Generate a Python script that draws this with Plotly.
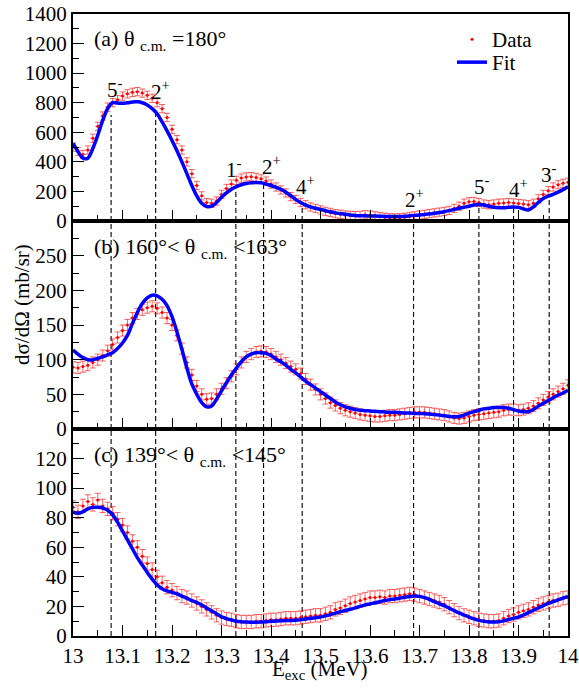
import plotly.graph_objects as go

# ---------------- data ----------------
energy = [round(13.0 + 0.01 * i, 2) for i in range(101)]

data_a = [500, 470, 450, 480, 560, 640, 710, 770, 800, 820,
          845, 860, 870, 875, 865, 850, 830, 800, 760, 700,
          620, 550, 480, 400, 320, 240, 170, 125, 120, 135,
          180, 220, 250, 275, 290, 298, 300, 295, 285, 270,
          250, 230, 210, 190, 165, 145, 125, 110, 95, 85,
          75, 65, 58, 50, 45, 40, 38, 36, 38, 42,
          40, 35, 30, 25, 22, 20, 22, 25, 30, 35,
          40, 45, 50, 55, 60, 65, 72, 85, 100, 120,
          130, 132, 125, 115, 110, 115, 120, 122, 125, 122,
          118, 115, 110, 120, 150, 180, 205, 230, 245, 255, 262]
fit_a = [525, 470, 425, 425, 490, 580, 680, 760, 800, 798,
         796, 800, 805, 806, 800, 785, 760, 725, 670, 610,
         545, 475, 400, 320, 240, 170, 120, 98, 100, 125,
         160, 190, 215, 232, 245, 253, 258, 261, 258, 250,
         240, 228, 215, 195, 172, 145, 125, 108, 95, 86,
         78, 70, 62, 55, 50, 45, 41, 38, 36, 35,
         34, 33, 32, 31, 30, 30, 30, 32, 35, 38,
         41, 44, 48, 52, 57, 63, 70, 78, 86, 93,
         100, 108, 112, 108, 100, 93, 90, 90, 93, 95,
         92, 82, 75, 95, 125, 152, 168, 180, 195, 212, 232]

data_b = [89, 88, 90, 92, 96, 100, 106, 113, 122, 132,
          142, 150, 160, 166, 172, 175, 177, 174, 168, 160,
          150, 135, 116, 96, 78, 62, 50, 43, 44, 50,
          58, 66, 76, 86, 96, 104, 108, 111, 112, 111,
          108, 104, 100, 95, 90, 86, 80, 72, 64, 57,
          50, 44, 38, 34, 30, 27, 25, 23, 21, 20,
          19, 18, 18, 19, 20, 20, 21, 22, 23, 24,
          24, 24, 23, 22, 21, 20, 18, 16, 15, 16,
          18, 20, 21, 22, 23, 24, 25, 27, 28, 28,
          27, 28, 30, 33, 37, 42, 46, 50, 54, 58, 63]
fit_b = [114, 108, 103, 100, 100, 102, 104, 107, 110, 116,
         124, 135, 152, 168, 181, 189, 193, 192, 187, 178,
         162, 140, 115, 88, 65, 50, 38, 32, 33, 43,
         55, 67, 78, 88, 97, 104, 108, 110, 110, 109,
         106, 101, 97, 92, 86, 81, 75, 69, 64, 59,
         54, 49, 44, 39, 35, 32, 30, 28, 27, 26.5,
         26, 25.5, 25, 24.5, 24, 24, 23.5, 23, 23, 22.5,
         22.5, 22, 21.5, 21, 20, 19, 18, 17.5, 18, 20,
         23, 25, 27, 29, 30, 31, 31, 31, 30, 28,
         26, 25, 25, 28, 33, 37, 41, 45, 49, 52, 56]

data_c = [87, 84, 88, 91, 89, 92, 88, 86, 83, 79,
          75, 70, 64, 60, 54, 49, 45, 40, 36, 33,
          31, 29, 27, 26, 24, 22, 20, 18, 16, 14,
          12.5, 11.5, 11, 10, 9.5, 9.5, 9.5, 10, 10, 10.5,
          11, 11, 11.5, 12, 12, 12, 12.5, 13, 13.5, 14,
          14, 15, 16, 18, 19, 20.5, 22, 23, 24, 25,
          26, 26, 26.5, 26, 27, 27, 27.5, 28, 28.5, 28,
          27, 26, 25, 24, 23, 21.5, 19.5, 17.5, 15.5, 14,
          13, 12, 11, 10.5, 10, 10, 10.5, 12, 13.5, 14.5,
          16, 17, 18, 19.5, 21, 22, 23, 24, 24.5, 25.5, 26]
fit_c = [84, 83, 84, 86, 87, 87, 86.5, 85, 82, 77,
         71, 65, 59, 53, 48, 43, 38.5, 34.5, 32, 30.5,
         29.5, 28.5, 27, 25.5, 24, 22.8, 21, 19, 17, 15,
         13, 11.8, 10.8, 10, 9.6, 9.4, 9.3, 9.3, 9.4, 9.6,
         9.9, 10.1, 10.3, 10.4, 10.5, 10.6, 11, 11.5, 12, 12.4,
         12.8, 13.6, 14.5, 15.5, 16.4, 17.2, 18.1, 19, 20, 21,
         21.7, 22.5, 23.2, 24, 24.6, 25, 25.6, 26.2, 26.7, 27,
         26.8, 26, 24.8, 23.2, 21.8, 20.5, 18.8, 17.2, 15.6, 14.2,
         12.8, 11.6, 10.6, 9.9, 9.5, 9.4, 9.6, 10.2, 11.2, 12,
         12.8, 14.2, 15.8, 17.4, 19, 20.6, 22, 23.2, 24.4, 25.6, 26.8]

err_a, err_b, err_c = 28, 8, 4.5
err_e = 0.005

# tick labels
x_ticks = [13, 13.1, 13.2, 13.3, 13.4, 13.5, 13.6, 13.7, 13.8, 13.9, 14]
x_ticktext = ["13", "13.1", "13.2", "13.3", "13.4", "13.5", "13.6", "13.7", "13.8", "13.9", "14"]
y_ticks_a = [0, 200, 400, 600, 800, 1000, 1200, 1400]
y_ticks_b = [0, 50, 100, 150, 200, 250]
y_ticks_c = [0, 20, 40, 60, 80, 100, 120]

# level energies, spin labels and label positions (panel a)
levels = [13.077, 13.167, 13.329, 13.385, 13.463, 13.688, 13.820, 13.890, 13.962]
level_top_a = [717, 739, 222, 245, 122, 35, 110, 100, 165]
spins = ["5<sup>-</sup>", "2<sup>+</sup>", "1<sup>-</sup>", "2<sup>+</sup>", "4<sup>+</sup>",
         "2<sup>+</sup>", "5<sup>-</sup>", "4<sup>+</sup>", "3<sup>-</sup>"]
spin_x = [13.085, 13.176, 13.326, 13.400, 13.470, 13.690, 13.826, 13.900, 13.962]
spin_y = [899, 885, 358, 378, 237, 155, 237, 223, 324]

panel_titles = ["(a) θ <sub>c.m.</sub> =180°",
                "(b) 160°< θ <sub>c.m.</sub> <163°",
                "(c) 139°< θ <sub>c.m.</sub> <145°"]

FONT = "Liberation Serif, Times New Roman, DejaVu Serif, serif"
RED = "#ff0000"
BLUE = "#0000ff"

fig = go.Figure()

panels = [
    (data_a, fit_a, err_a, "x", "y"),
    (data_b, fit_b, err_b, "x2", "y2"),
    (data_c, fit_c, err_c, "x3", "y3"),
]
for i, (d, f, e, xa, ya) in enumerate(panels):
    fig.add_trace(go.Scatter(
        x=energy, y=d, mode="markers", xaxis=xa, yaxis=ya,
        marker=dict(color=RED, size=3),
        error_y=dict(type="constant", value=e, color="rgba(255,0,0,0.6)", thickness=1, width=3),
        error_x=dict(type="constant", value=err_e, color="rgba(255,0,0,0.6)", thickness=1, width=0),
        name="Data", showlegend=(i == 0), legend="legend"))
    fig.add_trace(go.Scatter(
        x=energy, y=f, mode="lines", xaxis=xa, yaxis=ya,
        line=dict(color=BLUE, width=3.5, shape="spline"),
        name="Fit", showlegend=(i == 0), legend="legend2"))

# dashed level lines
DASH = dict(color="black", width=1.1, dash="5px,3px")
shapes = []
for e0, top in zip(levels, level_top_a):
    shapes.append(dict(type="line", xref="x", yref="y", x0=e0, x1=e0, y0=0, y1=top,
                       line=DASH, layer="below"))
    for yr in ["y2 domain", "y3 domain"]:
        shapes.append(dict(type="line", xref="x", yref=yr, x0=e0, x1=e0, y0=0, y1=1,
                           line=DASH, layer="below"))

annotations = []
for t, sx, sy in zip(spins, spin_x, spin_y):
    annotations.append(dict(text=t, x=sx, y=sy, xref="x", yref="y", showarrow=False,
                            xanchor="center", yanchor="middle",
                            font=dict(family=FONT, size=21, color="black")))

H = 622.0
W = 495.0
def py(p):
    return (636 - p) / H
def px(p):
    return (p - 73) / W

for t, ypix in zip(panel_titles, [40, 248, 456]):
    annotations.append(dict(text=t, x=px(92), y=py(ypix), xref="paper", yref="paper",
                            xanchor="left", yanchor="middle", showarrow=False,
                            font=dict(family=FONT, size=22, color="black")))

annotations.append(dict(text="dσ/dΩ (mb/sr)", x=px(22), y=py(305), xref="paper",
                        yref="paper", textangle=-90, showarrow=False,
                        xanchor="center", yanchor="middle",
                        font=dict(family=FONT, size=21, color="black")))
annotations.append(dict(text="E<sub>exc</sub> (MeV)", x=px(320), y=py(670), xref="paper",
                        yref="paper", showarrow=False, xanchor="center", yanchor="middle",
                        font=dict(family=FONT, size=21, color="black")))

axis_common = dict(showline=True, linecolor="black", linewidth=2, mirror=True,
                   ticks="inside", ticklen=11, tickwidth=1, tickcolor="black",
                   showgrid=False, zeroline=False, automargin=False,
                   tickfont=dict(family=FONT, size=21, color="black"))

xcommon = dict(axis_common, range=[13, 14], tickmode="array", tickvals=x_ticks,
               minor=dict(ticks="inside", ticklen=6, dtick=0.05, tick0=13,
                          tickcolor="black", tickwidth=1))

def yminor(step):
    return dict(ticks="inside", ticklen=6, dtick=step, tick0=0, tickcolor="black", tickwidth=1)

fig.update_layout(
    width=579, height=689,
    margin=dict(l=73, r=11, t=14, b=53, autoexpand=False),
    paper_bgcolor="white", plot_bgcolor="white",
    font=dict(family=FONT, color="black"),
    showlegend=True,
    legend=dict(x=px(452), y=py(19), xanchor="left", yanchor="top",
                bgcolor="rgba(0,0,0,0)", font=dict(family=FONT, size=21), itemwidth=30),
    legend2=dict(x=px(452), y=py(42), xanchor="left", yanchor="top",
                 bgcolor="rgba(0,0,0,0)", font=dict(family=FONT, size=21), itemwidth=30),
    xaxis=dict(xcommon, anchor="y", showticklabels=False),
    xaxis2=dict(xcommon, anchor="y2", matches="x", showticklabels=False),
    xaxis3=dict(xcommon, anchor="y3", matches="x", ticktext=x_ticktext),
    yaxis=dict(axis_common, domain=[py(221), 1.0], anchor="x", range=[0, 1400],
               tickmode="array", tickvals=y_ticks_a, minor=yminor(100)),
    yaxis2=dict(axis_common, domain=[py(429), py(221)], anchor="x2", range=[0, 300],
                tickmode="array", tickvals=y_ticks_b, minor=yminor(25)),
    yaxis3=dict(axis_common, domain=[0, py(429)], anchor="x3", range=[0, 140],
                tickmode="array", tickvals=y_ticks_c, minor=yminor(10)),
    shapes=shapes,
    annotations=annotations,
)

fig.write_html("out.html", config={"displayModeBar": False},
               post_script="document.body.style.margin='0';")
